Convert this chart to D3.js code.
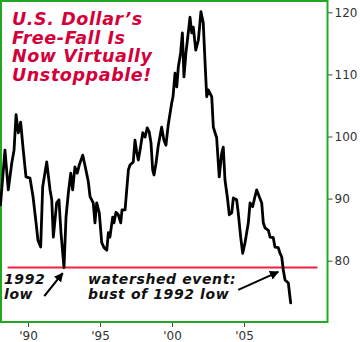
<!DOCTYPE html>
<html>
<head>
<meta charset="utf-8">
<script src="https://cdn.jsdelivr.net/npm/d3@7"></script>
<style>
  html, body { margin: 0; padding: 0; background: #fff; }
  svg { display: block; }
</style>
</head>
<body>
<svg id="chart" width="360" height="342"></svg>
<script>
// U.S. Dollar Index, 1988 – early 2008 (decimal year, index level)
const years = [
  1988.09, 1988.40, 1988.63, 1988.87, 1989.03, 1989.17, 1989.33, 1989.49, 1989.67, 1989.86,
  1990.14, 1990.35, 1990.56, 1990.69, 1990.88, 1991.02, 1991.30, 1991.53, 1991.65, 1991.76,
  1991.99, 1992.15, 1992.29, 1992.50, 1992.64, 1992.80, 1992.97, 1993.10, 1993.26, 1993.42,
  1993.56, 1993.80, 1993.98, 1994.19, 1994.31, 1994.53, 1994.65, 1994.77, 1994.95, 1995.12,
  1995.28, 1995.47, 1995.58, 1995.69, 1995.88, 1995.97, 1996.11, 1996.27, 1996.44, 1996.53,
  1996.74, 1996.97, 1997.08, 1997.31, 1997.43, 1997.55, 1997.66, 1997.78, 1997.97, 1998.13,
  1998.28, 1998.42, 1998.54, 1998.66, 1998.75, 1998.89, 1999.05, 1999.28, 1999.44, 1999.58,
  1999.74, 1999.98, 2000.07, 2000.21, 2000.33, 2000.44, 2000.60, 2000.72, 2000.83, 2000.97,
  2001.13, 2001.25, 2001.37, 2001.48, 2001.65, 2001.83, 2002.01, 2002.17, 2002.31, 2002.41,
  2002.52, 2002.76, 2002.87, 2002.99, 2003.10, 2003.28, 2003.45, 2003.56, 2003.68, 2003.84,
  2003.98, 2004.15, 2004.26, 2004.49, 2004.60, 2004.77, 2004.91, 2005.07, 2005.30, 2005.42,
  2005.60, 2005.76, 2005.88, 2006.06, 2006.23, 2006.34, 2006.46, 2006.69, 2006.81, 2007.03,
  2007.15, 2007.38, 2007.50, 2007.62, 2007.73, 2007.85, 2008.08, 2008.19, 2008.24
];
const index = [
   89.0,  97.8,  91.4,  95.7,  97.8, 103.5, 100.6, 102.3,  97.8,  93.5,
   93.3,  90.3,  86.1,  83.3,  82.2,  91.9,  95.9,  91.4,  89.8,  83.8,
   89.3,  89.8,  84.5,  78.9,  87.0,  90.9,  94.1,  91.4,  95.1,  94.1,
   95.4,  97.0,  95.1,  92.7,  90.3,  89.3,  86.1,  89.3,  87.7,  82.9,
   82.1,  81.7,  84.5,  83.8,  87.0,  86.1,  87.8,  87.4,  86.1,  88.2,
   88.2,  94.6,  95.4,  95.9,  99.4,  97.5,  96.2,  97.8, 100.6,  99.9,
  101.4, 100.7,  99.0,  94.6,  93.8,  95.7,  98.6, 101.5,  99.4,  98.6,
  101.9, 105.4, 106.4, 110.2, 108.0, 111.2, 113.5, 116.7, 109.6, 113.5,
  116.7, 119.2, 116.7, 117.6, 113.9, 115.5, 120.1, 118.3, 111.2, 106.4,
  107.5, 106.4, 101.5, 100.6,  99.8,  93.5,  97.3,  98.3,  93.0,  90.3,
   87.4,  87.7,  90.1,  89.8,  87.7,  83.8,  81.2,  82.9,  86.1,  89.3,
   88.7,  90.3,  91.4,  90.3,  89.3,  86.1,  85.3,  84.9,  83.8,  83.7,
   82.2,  82.1,  81.2,  80.6,  78.5,  76.9,  76.4,  74.2,  73.2
];

// 1992 low, drawn as a horizontal reference level
const low1992 = 78.9;
const lowSpan = [1988.58, 2010.1];

// axis ticks
const yTicks = [80, 90, 100, 110, 120];
const xTicks = [1990, 1995, 2000, 2005];
const xTickLabels = ["'90", "'95", "'00", "'05"];

const titleLines = ["U.S. Dollar\u2019s", "Free-Fall Is", "Now Virtually", "Unstoppable!"];
const noteLeft = ["1992", "low"];
const noteRight = ["watershed event:", "bust of 1992 low"];

const svg = d3.select("#chart");

const x = d3.scaleLinear().domain([1990, 2005]).range([28, 244]);
const y = d3.scaleLinear().domain([80, 120]).range([260.7, 12.3]);

const frame = { left: 1, top: 1, right: 327.5, bottom: 322 };

// y axis on the right
const yAxis = d3.axisRight(y).tickValues(yTicks).tickSize(5).tickPadding(2);
const gy = svg.append("g")
  .attr("transform", `translate(${frame.right},0)`)
  .call(yAxis);
gy.select(".domain").remove();
gy.selectAll("line").attr("stroke", "#444");
gy.selectAll("text")
  .attr("font-family", "'DejaVu Sans', Verdana, sans-serif")
  .attr("font-size", 12)
  .attr("fill", "#333");

// x axis along the bottom
const xAxis = d3.axisBottom(x).tickValues(xTicks)
  .tickFormat((d, i) => xTickLabels[i]).tickSize(5).tickPadding(4);
const gx = svg.append("g")
  .attr("transform", `translate(0,${frame.bottom})`)
  .call(xAxis);
gx.select(".domain").remove();
gx.selectAll("line").attr("stroke", "#444");
gx.selectAll("text")
  .attr("font-family", "'DejaVu Sans', Verdana, sans-serif")
  .attr("font-size", 12)
  .attr("fill", "#333");

// plot frame
svg.append("rect")
  .attr("x", frame.left).attr("y", frame.top)
  .attr("width", frame.right - frame.left)
  .attr("height", frame.bottom - frame.top)
  .attr("fill", "none")
  .attr("stroke", "#22a822")
  .attr("stroke-width", 2);

// 1992 low level
svg.append("line")
  .attr("x1", x(lowSpan[0])).attr("x2", x(lowSpan[1]))
  .attr("y1", y(low1992)).attr("y2", y(low1992))
  .attr("stroke", "#f0203f")
  .attr("stroke-width", 2);

// index line
const series = years.map((yr, i) => ({ t: yr, v: index[i] }));
svg.append("path")
  .datum(series)
  .attr("fill", "none")
  .attr("stroke", "#000")
  .attr("stroke-width", 2.8)
  .attr("stroke-linejoin", "round")
  .attr("stroke-linecap", "round")
  .attr("d", d3.line().x(d => x(d.t)).y(d => y(d.v)));

// headline
svg.append("text")
  .attr("font-family", "'DejaVu Sans', Verdana, sans-serif")
  .attr("font-weight", "bold")
  .attr("font-style", "italic")
  .attr("font-size", 17.5)
  .attr("letter-spacing", 0.6)
  .attr("fill", "#d4003a")
  .selectAll("tspan")
  .data(titleLines)
  .join("tspan")
  .attr("x", 12)
  .attr("y", (d, i) => 25 + i * 18.7)
  .text(d => d);

// annotations
function note(lines, x0, y0) {
  svg.append("text")
    .attr("font-family", "'DejaVu Sans', Verdana, sans-serif")
    .attr("font-weight", "bold")
    .attr("font-style", "italic")
    .attr("font-size", 14)
    .attr("letter-spacing", 0.6)
    .attr("fill", "#111")
    .selectAll("tspan")
    .data(lines)
    .join("tspan")
    .attr("x", x0)
    .attr("y", (d, i) => y0 + i * 14.8)
    .text(d => d);
}
note(noteLeft, 4, 284.3);
note(noteRight, 88, 284.3);

// arrows pointing at the 1992 low and at the break below it
svg.append("defs").append("marker")
  .attr("id", "head")
  .attr("viewBox", "0 0 10 10")
  .attr("refX", 9).attr("refY", 5)
  .attr("markerWidth", 4.4).attr("markerHeight", 4.4)
  .attr("orient", "auto")
  .append("path")
  .attr("d", "M0,0L10,5L0,10Z")
  .attr("fill", "#000");

const arrows = [
  { from: [1991.13, 74.3], to: [1992.41, 78.0] },
  { from: [2004.60, 75.3], to: [2007.38, 78.2] }
];
svg.selectAll(".arrow")
  .data(arrows)
  .join("line")
  .attr("class", "arrow")
  .attr("x1", d => x(d.from[0])).attr("y1", d => y(d.from[1]))
  .attr("x2", d => x(d.to[0])).attr("y2", d => y(d.to[1]))
  .attr("stroke", "#000")
  .attr("stroke-width", 2.1)
  .attr("marker-end", "url(#head)");
</script>
</body>
</html>
